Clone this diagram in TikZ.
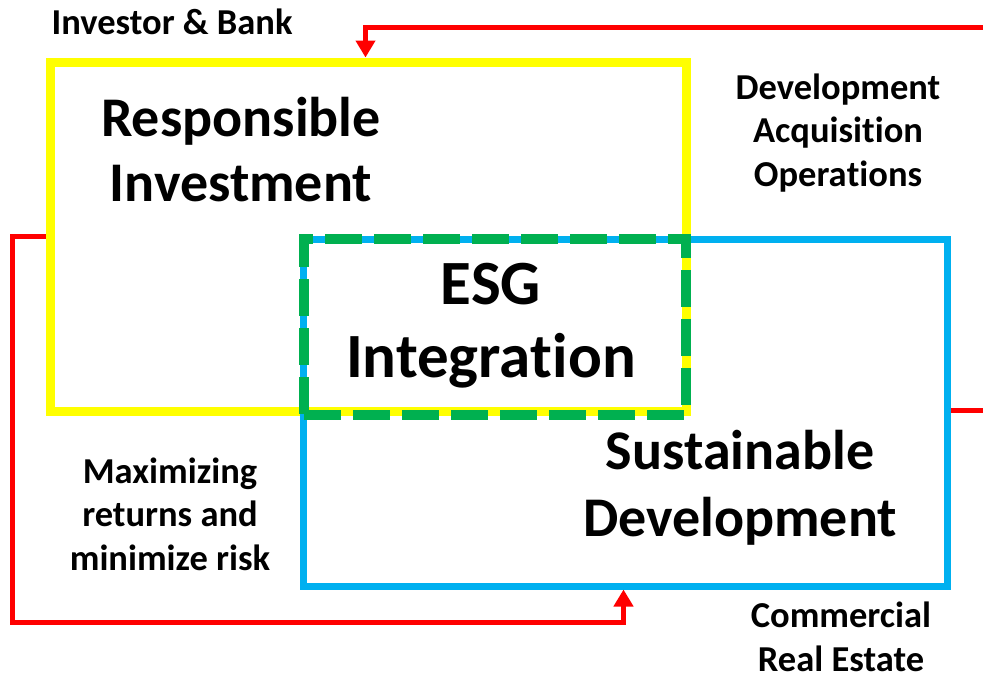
\documentclass[tikz,border=0pt]{standalone}
\usepackage{fontspec}
\setmainfont{Carlito}[RawFeature={-liga;-dlig;-clig}]
\usetikzlibrary{arrows.meta}
\definecolor{riyellow}{HTML}{FFFF00}
\definecolor{sdblue}{HTML}{00B0F0}
\definecolor{esggreen}{HTML}{00B050}
\definecolor{flowred}{HTML}{FF0000}
\tikzset{
  box/.style={rectangle, inner sep=0pt, draw},
  flow/.style={draw=flowred, line width=5pt},
  flowarrow/.style={flow, -{Triangle[width=19pt,length=17pt]}},
  smalltxt/.style={font=\bfseries\fontsize{36.5}{43.5}\selectfont, align=center, inner sep=0pt},
  bigtxt/.style={font=\bfseries\fontsize{56}{65}\selectfont, align=center, inner sep=0pt},
}
\begin{document}
\begin{tikzpicture}[x=1pt,y=-1pt]
\useasboundingbox (0,0) rectangle (983,678);

% the three areas
\node[box, draw=riyellow, line width=9pt, minimum width=636pt, minimum height=349pt] (ri) at (368,236.5) {};
\node[box, draw=sdblue, line width=7pt, minimum width=644pt, minimum height=347pt] (sd) at (625,412.5) {};
\node[box, draw=esggreen, line width=10pt, dash pattern=on 37pt off 12pt, minimum width=382pt, minimum height=176pt] (esg) at (495,327) {};

% labels
\node[smalltxt] (ib) at (172,22) {Investor \& Bank};
\node[bigtxt] (rit) at (241,150) {Responsible\\Investment};
\node[smalltxt] (dao) at (838,133) {Development\\Acquisi\kern0pt tion\\Opera\kern0pt tions};
\node[font=\bfseries\fontsize{63}{73}\selectfont, align=center, inner sep=0pt] (esgt) at (491,326) {ESG\\Integra\kern0pt tion};
\node[smalltxt] (mr) at (170,514) {Maximizing\\returns and\\minimize risk};
\node[bigtxt, font=\bfseries\fontsize{56}{67}\selectfont] (sdt) at (740,488) {Sustainable\\Development};
\node[smalltxt] (cre) at (841,637) {Commercial\\Real Estate};

% flow connectors
\coordinate (topin) at (983,27);
\coordinate (rightout) at (983,410);
\coordinate (leftturn) at (12,622);
\draw[flowarrow] (topin) -| ([xshift=320pt]ri.north west);
\draw[flowarrow] (ri.west) -| (leftturn) -| ([xshift=324pt]sd.south west);
\draw[flow] (sd.east |- rightout) -- (rightout);
\end{tikzpicture}
\end{document}
